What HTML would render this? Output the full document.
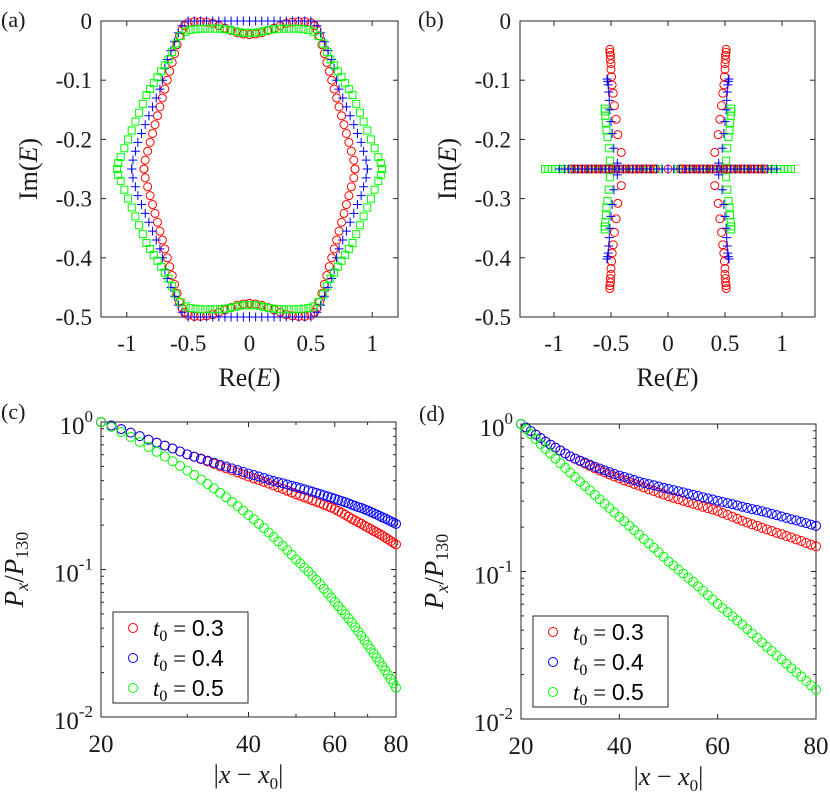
<!DOCTYPE html>
<html><head><meta charset="utf-8"><style>
html,body{margin:0;padding:0;background:#fff;}
svg{display:block;}
svg text{font-family:"Liberation Serif","Times New Roman",serif;}
</style></head><body>
<svg id="fig" width="830" height="798" viewBox="0 0 830 798" xmlns="http://www.w3.org/2000/svg" font-family="Liberation Serif, serif"></svg>
<script>
// ---------- Panel (a) data: right half (Re>=0), upper half; mirrored by symmetry ----------
const aRedRe  = [0,0.05,0.1,0.15,0.2,0.25,0.3,0.35,0.4,0.45,0.5,0.53,0.55,0.57,0.59,0.61,0.63,0.65,0.67,0.69,0.71,0.73,0.75,0.77,0.79,0.81,0.83,0.85,0.86];
const aRedIm  = [-0.023,-0.022,-0.02,-0.016,-0.012,-0.008,-0.004,-0.002,-0.001,-0.001,-0.003,-0.008,-0.015,-0.025,-0.04,-0.055,-0.07,-0.085,-0.1,-0.115,-0.13,-0.145,-0.16,-0.175,-0.19,-0.205,-0.22,-0.235,-0.25];
const aBlueRe = [0,0.05,0.1,0.15,0.2,0.25,0.3,0.35,0.4,0.45,0.5,0.55,0.58,0.61,0.64,0.67,0.69,0.71,0.73,0.76,0.79,0.82,0.85,0.88,0.91,0.93,0.95,0.96];
const aBlueIm = [0,0,0,0,0,0,0,0,0,0,0,-0.008,-0.02,-0.035,-0.05,-0.065,-0.08,-0.1,-0.115,-0.13,-0.145,-0.16,-0.175,-0.19,-0.205,-0.22,-0.235,-0.25];
const aGreenRe = [0,0.04,0.08,0.12,0.16,0.2,0.24,0.28,0.32,0.36,0.4,0.44,0.48,0.52,0.56,0.6,0.63,0.66,0.69,0.72,0.75,0.78,0.81,0.84,0.87,0.9,0.93,0.96,0.99,1.02,1.05,1.07,1.08];
const aGreenIm = [-0.02,-0.02,-0.019,-0.017,-0.015,-0.014,-0.013,-0.013,-0.013,-0.013,-0.013,-0.014,-0.015,-0.018,-0.025,-0.038,-0.052,-0.065,-0.075,-0.085,-0.095,-0.105,-0.115,-0.125,-0.14,-0.155,-0.17,-0.185,-0.2,-0.215,-0.23,-0.24,-0.25];
// ---------- Panel (b) data ----------
const bHorizIm = -0.25;
const bGreenH = [-1.08,-1.05,-1.02,-0.99,-0.96,-0.93,-0.9,-0.87,-0.84,-0.81,-0.78,-0.75,-0.72,-0.69,-0.66,-0.63,-0.6,-0.57,-0.54,-0.51,-0.48,-0.45,-0.42,-0.39,-0.36,-0.33,-0.3,-0.27,-0.24,-0.21,-0.18,-0.15,-0.12,-0.09,0.09,0.12,0.15,0.18,0.21,0.24,0.27,0.3,0.33,0.36,0.39,0.42,0.45,0.48,0.51,0.54,0.57,0.6,0.63,0.66,0.69,0.72,0.75,0.78,0.81,0.84,0.87,0.9,0.93,0.96,0.99,1.02,1.05,1.08];
const bBlueH = [-0.95,-0.91,-0.87,-0.83,-0.79,-0.75,-0.71,-0.67,-0.63,-0.59,-0.55,-0.51,-0.47,-0.43,-0.39,-0.35,-0.31,-0.27,-0.23,-0.19,-0.15,-0.1,-0.05,0,0.05,0.1,0.15,0.19,0.23,0.27,0.31,0.35,0.39,0.43,0.47,0.51,0.55,0.59,0.63,0.67,0.71,0.75,0.79,0.83,0.87,0.91,0.95];
const bRedH = [-0.85,-0.82,-0.79,-0.76,-0.73,-0.7,-0.67,-0.64,-0.61,-0.58,-0.55,-0.52,-0.49,-0.46,-0.43,-0.4,-0.37,-0.34,-0.31,-0.28,-0.25,-0.22,-0.19,-0.16,-0.13,-0.11,0,0.11,0.13,0.16,0.19,0.22,0.25,0.28,0.31,0.34,0.37,0.4,0.43,0.46,0.49,0.52,0.55,0.58,0.61,0.64,0.67,0.7,0.73,0.76,0.79,0.82,0.85];
// vertical branches (left, upper half); mirrored to right and lower
const bRedVRe = [-0.51,-0.51,-0.505,-0.505,-0.5,-0.5,-0.495,-0.49,-0.48,-0.47,-0.455,-0.44,-0.41];
const bRedVIm = [-0.048,-0.053,-0.058,-0.065,-0.072,-0.082,-0.094,-0.108,-0.122,-0.143,-0.166,-0.192,-0.222];
const bBlueVRe = [-0.535,-0.53,-0.525,-0.52,-0.515,-0.51,-0.5,-0.49,-0.475,-0.445];
const bBlueVIm = [-0.098,-0.102,-0.108,-0.12,-0.134,-0.15,-0.17,-0.19,-0.215,-0.24];
const bGreenVRe = [-0.555,-0.555,-0.55,-0.545,-0.54,-0.53,-0.52,-0.51];
const bGreenVIm = [-0.148,-0.153,-0.16,-0.172,-0.185,-0.196,-0.215,-0.236];
// ---------- Panels (c),(d) data: P_x/P_130 vs |x-x0| ----------
const distX = [20,21,22,23,24,25,26,27,28,29,30,31,32,33,34,35,36,37,38,39,40,41,42,43,44,45,46,47,48,49,50,51,52,53,54,55,56,57,58,59,60,61,62,63,64,65,66,67,68,69,70,71,72,73,74,75,76,77,78,79,80];
const pRed = [1,0.946,0.895,0.847,0.802,0.759,0.724,0.692,0.661,0.631,0.603,0.581,0.560,0.540,0.520,0.501,0.485,0.470,0.455,0.441,0.427,0.415,0.404,0.393,0.382,0.372,0.361,0.352,0.342,0.333,0.324,0.316,0.309,0.302,0.295,0.288,0.282,0.275,0.269,0.263,0.257,0.249,0.242,0.235,0.228,0.221,0.215,0.209,0.204,0.198,0.193,0.188,0.183,0.179,0.174,0.170,0.165,0.161,0.156,0.152,0.148];
const pBlue = [1,0.946,0.895,0.847,0.802,0.759,0.724,0.692,0.661,0.631,0.603,0.583,0.565,0.547,0.530,0.513,0.499,0.485,0.472,0.459,0.447,0.437,0.427,0.417,0.407,0.398,0.391,0.384,0.377,0.370,0.363,0.356,0.350,0.344,0.337,0.331,0.325,0.319,0.313,0.308,0.302,0.296,0.291,0.286,0.281,0.275,0.270,0.265,0.261,0.256,0.251,0.246,0.241,0.236,0.231,0.226,0.222,0.217,0.213,0.208,0.204];
const pGreen = [1,0.925,0.855,0.791,0.731,0.676,0.628,0.583,0.542,0.504,0.468,0.437,0.407,0.380,0.355,0.331,0.309,0.288,0.269,0.251,0.234,0.219,0.204,0.191,0.178,0.166,0.155,0.145,0.135,0.126,0.117,0.110,0.103,0.0968,0.0908,0.0851,0.0794,0.0741,0.0692,0.0646,0.0603,0.0565,0.0530,0.0497,0.0466,0.0437,0.0407,0.0380,0.0355,0.0331,0.0309,0.0289,0.0270,0.0253,0.0237,0.0221,0.0207,0.0194,0.0181,0.0169,0.0158];
const legendLabels = ["0.3","0.4","0.5"];
const reTicks = [-1,-0.5,0,0.5,1];
const reTickLabels = ["-1","-0.5","0","0.5","1"];
const imTicks = [0,-0.1,-0.2,-0.3,-0.4,-0.5];
const imTickLabels = ["0","-0.1","-0.2","-0.3","-0.4","-0.5"];
const distTicks = [20,40,60,80];
const decadeTicks = [0,-1,-2];

const NS="http://www.w3.org/2000/svg";
const svg=document.getElementById('fig');
function mk(tag,attrs,parent){const e=document.createElementNS(NS,tag);for(const k in attrs)e.setAttribute(k,attrs[k]);(parent||svg).appendChild(e);return e;}
const RED="#ff0000",BLUE="#0000ff",GREEN="#00ff00",AX="#262626";

function circle(g,x,y,c,r){const e=mk('circle',{cx:x,cy:y,r:r||4,fill:'none',stroke:c,'stroke-width':1},g);

}
function plus(g,x,y,c){const e=mk('path',{d:`M${x-4.5},${y}H${x+4.5}M${x},${y-4.5}V${y+4.5}`,stroke:c,'stroke-width':1,fill:'none'},g);

}
function square(g,x,y,c){const e=mk('rect',{x:x-3.5,y:y-3.5,width:7,height:7,fill:'none',stroke:c,'stroke-width':1},g);

}

function box(g,x0,y0,x1,y1){const e=mk('rect',{x:x0,y:y0,width:x1-x0,height:y1-y0,fill:'none',stroke:AX,'stroke-width':1},g);

}
function text(g,x,y,s,attrs,name){const e=mk('text',Object.assign({x:x,y:y,fill:'#1a1a1a','font-family':'Liberation Serif, serif'},attrs||{}),g);e.innerHTML=s;

return e;}
function tickLine(g,x1,y1,x2,y2){mk('line',{x1:x1,y1:y1,x2:x2,y2:y2,stroke:AX,'stroke-width':1},g);}

// ---------- Complex plane panels ----------
function complexPanel(id,label,lx,X0,Y0,X1,Y1,xs,ys){
  const g=mk('g',{});
  
  
  box(g,X0,Y0,X1,Y1);
  reTicks.forEach((t,i)=>{const x=xs(t);tickLine(g,x,Y1,x,Y1-5);tickLine(g,x,Y0,x,Y0+5);
    text(g,x,351,reTickLabels[i],{'font-size':23,'text-anchor':'middle'},'x-tick-label');});
  imTicks.forEach((t,i)=>{const y=ys(t);tickLine(g,X0,y,X0+5,y);tickLine(g,X1,y,X1-5,y);
    text(g,X0-9,y+8,imTickLabels[i],{'font-size':23,'text-anchor':'end'},'y-tick-label');});
  text(g,(X0+X1)/2,386,'Re(<tspan font-style="italic">E</tspan>)',{'font-size':26,'text-anchor':'middle'},'x-axis-title');
  text(g,0,0,'Im(<tspan font-style="italic">E</tspan>)',{'font-size':26,'text-anchor':'middle',transform:`translate(${X0-64},${(Y0+Y1)/2}) rotate(-90)`},'y-axis-title');
  text(g,lx,27,label,{'font-size':22},'panel-label');
  return g;
}
// (a)
const xa=v=>249.5+122.7*v, ya=v=>21-592*v;
const ga=complexPanel('a','(a)',1,101,21,398,317,xa,ya);
function quad(g,re,im,fn,c,xs,ys){for(let i=0;i<re.length;i++){const r=re[i],m=im[i];
  [[r,m],[-r,m],[r,-0.5-m],[-r,-0.5-m]].forEach(p=>fn(g,xs(p[0]),ys(p[1]),c));}}
quad(ga,aRedRe,aRedIm,circle,RED,xa,ya);
quad(ga,aBlueRe,aBlueIm,plus,BLUE,xa,ya);
quad(ga,aGreenRe,aGreenIm,square,GREEN,xa,ya);
// (b)
const xb=v=>668+114*v, yb=ya;
const gb=complexPanel('b','(b)',418,520,21,815,317,xb,yb);
bGreenH.forEach(v=>square(gb,xb(v),yb(bHorizIm),GREEN));
bRedH.forEach(v=>circle(gb,xb(v),yb(bHorizIm),RED));
bBlueH.forEach(v=>plus(gb,xb(v),yb(bHorizIm),BLUE));
quad(gb,bGreenVRe,bGreenVIm,square,GREEN,xb,yb);
quad(gb,bRedVRe,bRedVIm,circle,RED,xb,yb);
quad(gb,bBlueVRe,bBlueVIm,plus,BLUE,xb,yb);

// ---------- Decay panels ----------
function decayPanel(id,label,lx,X0,Y0,X1,Y1,xs,logX,legX,legY){
  const g=mk('g',{});
  
  
  const ys=p=>Y0-Math.log10(p)*((Y1-Y0)/2);
  box(g,X0,Y0,X1,Y1);
  decadeTicks.forEach(d=>{const y=ys(Math.pow(10,d));tickLine(g,X0,y,X0+5,y);tickLine(g,X1,y,X1-5,y);
    text(g,X0-8,y+12,'10<tspan font-size="17" dy="-12">'+d+'</tspan>',{'font-size':25,'text-anchor':'end'},'y-tick-label');});
  [-1,-2].forEach(d=>{for(let k=2;k<=9;k++){const y=ys(k*Math.pow(10,d));tickLine(g,X0,y,X0+3,y);tickLine(g,X1,y,X1-3,y);}});
  distTicks.forEach(t=>{const x=xs(t);tickLine(g,x,Y1,x,Y1-5);tickLine(g,x,Y0,x,Y0+5);
    text(g,x,Y1+35,String(t),{'font-size':25,'text-anchor':'middle'},'x-tick-label');});
  if(logX){[30,50,70].forEach(t=>{const x=xs(t);tickLine(g,x,Y1,x,Y1-3);tickLine(g,x,Y0,x,Y0+3);});}
  text(g,(X0+X1)/2,Y1+66,'|<tspan font-style="italic">x</tspan> − <tspan font-style="italic">x</tspan><tspan font-size="17" dy="6">0</tspan><tspan dy="-6">|</tspan>',{'font-size':26,'text-anchor':'middle'},'x-axis-title');
  text(g,0,0,'<tspan font-style="italic">P</tspan><tspan font-style="italic" font-size="18" dy="5">x</tspan><tspan dy="-5">/</tspan><tspan font-style="italic">P</tspan><tspan font-size="18" dy="5">130</tspan>',{'font-size':27,'text-anchor':'middle',transform:`translate(${X0-78},${(Y0+Y1)/2}) rotate(-90)`},'y-axis-title');
  text(g,lx,Y0-3,label,{'font-size':22},'panel-label');
  [[pRed,RED],[pBlue,BLUE],[pGreen,GREEN]].forEach(s=>{distX.forEach((x,i)=>circle(g,xs(x),ys(s[0][i]),s[1],4.5));});
  const lg=mk('g',{},g);
  
  
  mk('rect',{x:legX,y:legY,width:135,height:91,fill:'#fff',stroke:AX,'stroke-width':1},lg);
  [RED,BLUE,GREEN].forEach((c,i)=>{const yy=legY+16+i*30;circle(lg,legX+20,yy,c,4.5);
    text(lg,legX+40,yy+8,'<tspan font-style="italic">t</tspan><tspan font-size="16" dy="5">0</tspan><tspan dy="-5"> = </tspan><tspan font-family="Liberation Sans, sans-serif">'+legendLabels[i]+'</tspan>',{'font-size':23,fill:'#000'},'legend-entry');});
}
const xc=v=>101+Math.log10(v/20)/Math.log10(4)*295;
decayPanel('c','(c)',1,101,422,396,717,xc,true,113,612);
const xd=v=>521+(v-20)/60*295;
decayPanel('d','(d)',419,521,424,816,719,xd,false,533,616);
</script>
</body></html>
